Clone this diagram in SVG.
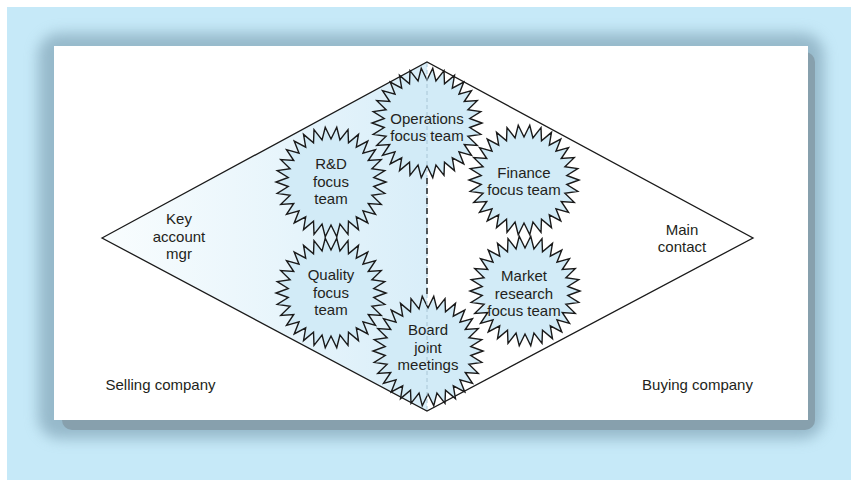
<svg xmlns="http://www.w3.org/2000/svg" xmlns:xlink="http://www.w3.org/1999/xlink" width="851" height="480" viewBox="0 0 851 480">
<style>
  .t { font-family: "Liberation Sans", "Open Sans", sans-serif; font-size: 15px; fill: #231f20; text-anchor: middle; }
  .gear { fill: #d2ebf7; stroke: #1a1a1a; stroke-width: 1.4; stroke-linejoin: miter; }
  .edge { fill: none; stroke: #1a1a1a; stroke-width: 1.3; }
</style>
<defs>
  <linearGradient id="leftFill" gradientUnits="userSpaceOnUse" x1="102" y1="0" x2="427" y2="0">
    <stop offset="0" stop-color="#f9fdfe"/>
    <stop offset="1" stop-color="#d9eef9"/>
  </linearGradient>
  <filter id="blur" x="-10%" y="-10%" width="120%" height="120%">
    <feGaussianBlur stdDeviation="7"/>
  </filter>
  <polygon id="gearShape" points="55,0 42.76,4.49 53.80,11.44 40.90,13.29 50.25,22.37 37.24,21.5 44.50,32.33 31.96,28.77 36.80,40.87 25.28,34.79 27.5,47.63 17.49,39.28 17.00,52.31 8.94,42.06 5.75,54.70 0,43 -5.75,54.70 -8.94,42.06 -17.00,52.31 -17.49,39.28 -27.5,47.63 -25.28,34.79 -36.80,40.87 -31.96,28.77 -44.50,32.33 -37.24,21.5 -50.25,22.37 -40.90,13.29 -53.80,11.44 -42.76,4.49 -55,0 -42.76,-4.49 -53.80,-11.44 -40.90,-13.29 -50.25,-22.37 -37.24,-21.5 -44.50,-32.33 -31.96,-28.77 -36.80,-40.87 -25.28,-34.79 -27.5,-47.63 -17.49,-39.28 -17.00,-52.31 -8.94,-42.06 -5.75,-54.70 0,-43 5.75,-54.70 8.94,-42.06 17.00,-52.31 17.49,-39.28 27.5,-47.63 25.28,-34.79 36.80,-40.87 31.96,-28.77 44.50,-32.33 37.24,-21.5 50.25,-22.37 40.90,-13.29 53.80,-11.44 42.76,-4.49"/>
</defs>

<!-- background -->
<rect x="7" y="7" width="844" height="473" fill="#c6e9f8"/>
<rect x="38" y="33" width="786" height="406" rx="22" fill="#6f93a6" opacity="0.55" filter="url(#blur)"/>
<rect x="62" y="52" width="753" height="378" rx="10" fill="#87a0ad"/>
<rect x="54" y="46" width="754" height="374" fill="#ffffff"/>

<!-- diamond -->
<g id="diamond">
  <polygon points="102,238 427,62 427,411" fill="url(#leftFill)"/>
  <polygon class="edge" points="102,238 427,62 753,238 427,411"/>
</g>

<!-- gears -->
<g id="operations">
  <use xlink:href="#gearShape" class="gear" transform="translate(427,123)"/>
  <text class="t" x="427" y="123.5">Operations</text>
  <text class="t" x="427" y="141">focus team</text>
</g>
<g id="rd">
  <use xlink:href="#gearShape" class="gear" transform="translate(331,182)"/>
  <text class="t" x="331" y="169">R&amp;D</text>
  <text class="t" x="331" y="186.5">focus</text>
  <text class="t" x="331" y="204">team</text>
</g>
<g id="finance">
  <use xlink:href="#gearShape" class="gear" transform="translate(524,180)"/>
  <text class="t" x="524" y="177.5">Finance</text>
  <text class="t" x="524" y="195">focus team</text>
</g>
<g id="quality">
  <use xlink:href="#gearShape" class="gear" transform="translate(331,293)"/>
  <text class="t" x="331" y="280">Quality</text>
  <text class="t" x="331" y="297.5">focus</text>
  <text class="t" x="331" y="315">team</text>
</g>
<g id="market">
  <use xlink:href="#gearShape" class="gear" transform="translate(525,291)"/>
  <text class="t" x="524" y="281">Market</text>
  <text class="t" x="524" y="298.5">research</text>
  <text class="t" x="524" y="316">focus team</text>
</g>
<g id="board">
  <use xlink:href="#gearShape" class="gear" transform="translate(428,351)"/>
  <text class="t" x="428" y="335">Board</text>
  <text class="t" x="428" y="352.5">joint</text>
  <text class="t" x="428" y="370">meetings</text>
</g>

<!-- connectors -->
<g id="connectors">
  <line x1="427" y1="63" x2="427" y2="410" stroke="#a9c6d6" stroke-width="1" stroke-dasharray="4 3"/>
  <line x1="427" y1="178" x2="427" y2="298" stroke="#1a1a1a" stroke-width="1.4" stroke-dasharray="6 4"/>
</g>

<!-- side labels -->
<g id="seller">
  <text class="t" x="179" y="224">Key</text>
  <text class="t" x="179" y="241.5">account</text>
  <text class="t" x="179" y="259">mgr</text>
  <text class="t" x="160.5" y="390">Selling company</text>
</g>
<g id="buyer">
  <text class="t" x="682" y="234.5">Main</text>
  <text class="t" x="682" y="252">contact</text>
  <text class="t" x="697.5" y="390">Buying company</text>
</g>
</svg>
